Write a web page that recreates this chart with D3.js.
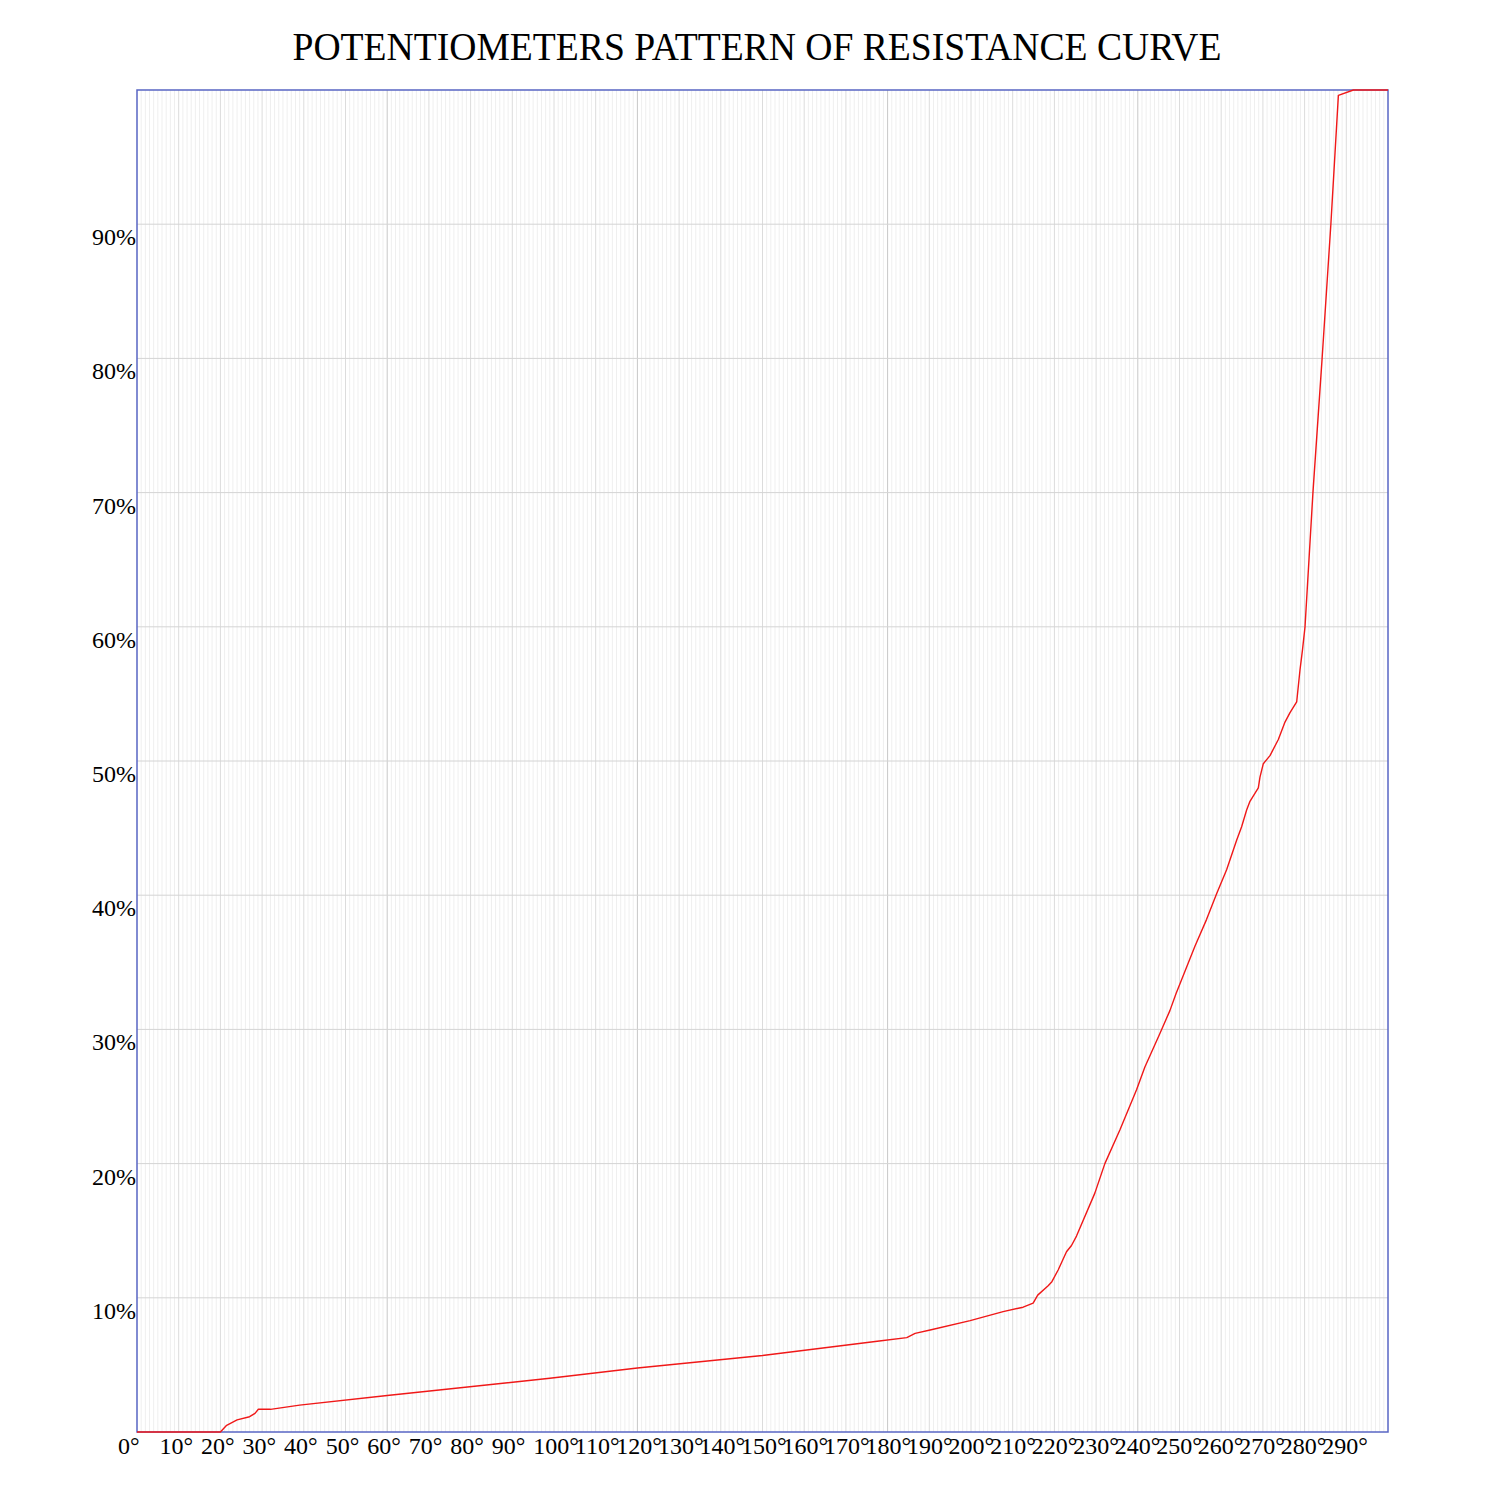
<!DOCTYPE html>
<html>
<head>
<meta charset="utf-8">
<script src="https://cdn.jsdelivr.net/npm/d3@7"></script>
<style>
  html, body { margin: 0; padding: 0; background: #ffffff; }
  svg { display: block; }
</style>
</head>
<body>
<div id="chart"></div>
<script>
// ---- data ----
const title = "POTENTIOMETERS PATTERN OF RESISTANCE CURVE";
const degrees = [0, 20, 21.5, 24, 27, 28.3, 29.1, 32, 39, 60, 99, 120, 150, 178, 184.6, 186.6, 190.2, 199.8, 207.7, 212.5, 214.9, 216, 218.5, 219.4, 220.9, 222.9, 224.1, 225.3, 229.7, 232.1, 235.7, 239.7, 241.7, 245.3, 247.7, 249.2, 250.5, 253.7, 256.5, 258.9, 261.3, 263.7, 264.9, 266.1, 266.9, 268.9, 269.3, 270.1, 271.7, 273.7, 275.3, 276.5, 278.1, 278.9, 279.5, 280.1, 282, 284.2, 286.3, 288.1, 291.7, 300];
const resistance = [0, 0, 0.5, 0.9, 1.14, 1.39, 1.69, 1.69, 2.0, 2.72, 4.0, 4.77, 5.7, 6.78, 7.03, 7.35, 7.6, 8.3, 8.97, 9.3, 9.6, 10.2, 10.9, 11.2, 12.07, 13.43, 13.9, 14.6, 17.8, 20, 22.5, 25.5, 27.2, 29.7, 31.4, 32.7, 33.7, 36.2, 38.2, 40.1, 41.9, 44.1, 45.1, 46.35, 47, 48, 48.8, 49.8, 50.4, 51.6, 52.9, 53.6, 54.4, 56.8, 58.3, 60, 70, 80, 90, 99.6, 100, 100];
const xTickValues = [0, 10, 20, 30, 40, 50, 60, 70, 80, 90, 100, 110, 120, 130, 140, 150, 160, 170, 180, 190, 200, 210, 220, 230, 240, 250, 260, 270, 280, 290];
const yTickValues = [10, 20, 30, 40, 50, 60, 70, 80, 90];

// ---- layout ----
const W = 1500, H = 1500;
const m = { left: 137, right: 112, top: 90, bottom: 68 };
const pw = W - m.left - m.right, ph = H - m.top - m.bottom;

const svg = d3.select("#chart").append("svg").attr("width", W).attr("height", H);
const g = svg.append("g").attr("transform", `translate(${m.left},${m.top})`);

const x = d3.scaleLinear().domain([0, 300]).range([0, pw]);
const y = d3.scaleLinear().domain([0, 100]).range([ph, 0]);

const fontFam = "'Liberation Serif', 'Times New Roman', serif";

// minor vertical grid every 1 degree
g.append("g").selectAll("line").data(d3.range(1, 300).filter(d => d % 10 !== 0)).join("line")
  .attr("x1", d => x(d)).attr("x2", d => x(d)).attr("y1", 0).attr("y2", ph)
  .attr("stroke", "#efefef").attr("stroke-width", 1);
// 10-degree vertical grid
g.append("g").selectAll("line").data(d3.range(10, 300, 10)).join("line")
  .attr("x1", d => x(d)).attr("x2", d => x(d)).attr("y1", 0).attr("y2", ph)
  .attr("stroke", d => d % 60 === 0 ? "#c8c8c8" : "#dcdcdc").attr("stroke-width", 1);
// horizontal grid every 10%
g.append("g").selectAll("line").data(yTickValues).join("line")
  .attr("x1", 0).attr("x2", pw).attr("y1", d => y(d)).attr("y2", d => y(d))
  .attr("stroke", "#d4d4d4").attr("stroke-width", 1);

// border
g.append("rect").attr("x", 0).attr("y", 0).attr("width", pw).attr("height", ph)
  .attr("fill", "none").attr("stroke", "#5866c4").attr("stroke-width", 1.5);

// curve
const line = d3.line().x((d, i) => x(degrees[i])).y(d => y(d));
g.append("path").datum(resistance)
  .attr("d", line)
  .attr("fill", "none").attr("stroke", "#f01818").attr("stroke-width", 1.4)
  .attr("stroke-linejoin", "round");

// y labels
g.append("g").selectAll("text").data(yTickValues).join("text")
  .attr("x", -1).attr("y", d => y(d) + 21)
  .attr("text-anchor", "end")
  .attr("font-family", fontFam).attr("font-size", 24).attr("fill", "#000")
  .text(d => d + "%");

// x labels
g.append("g").selectAll("text").data(xTickValues).join("text")
  .attr("x", d => x(d) - 19 - d * 0.017).attr("y", ph + 22)
  .attr("text-anchor", "start")
  .attr("font-family", fontFam).attr("font-size", 24).attr("fill", "#000")
  .text(d => d + "°");

// title
svg.append("text")
  .attr("x", 757).attr("y", 60)
  .attr("text-anchor", "middle")
  .attr("font-family", fontFam).attr("font-size", 39).attr("fill", "#000")
  .attr("textLength", 929).attr("lengthAdjust", "spacingAndGlyphs")
  .text(title);
</script>
</body>
</html>
